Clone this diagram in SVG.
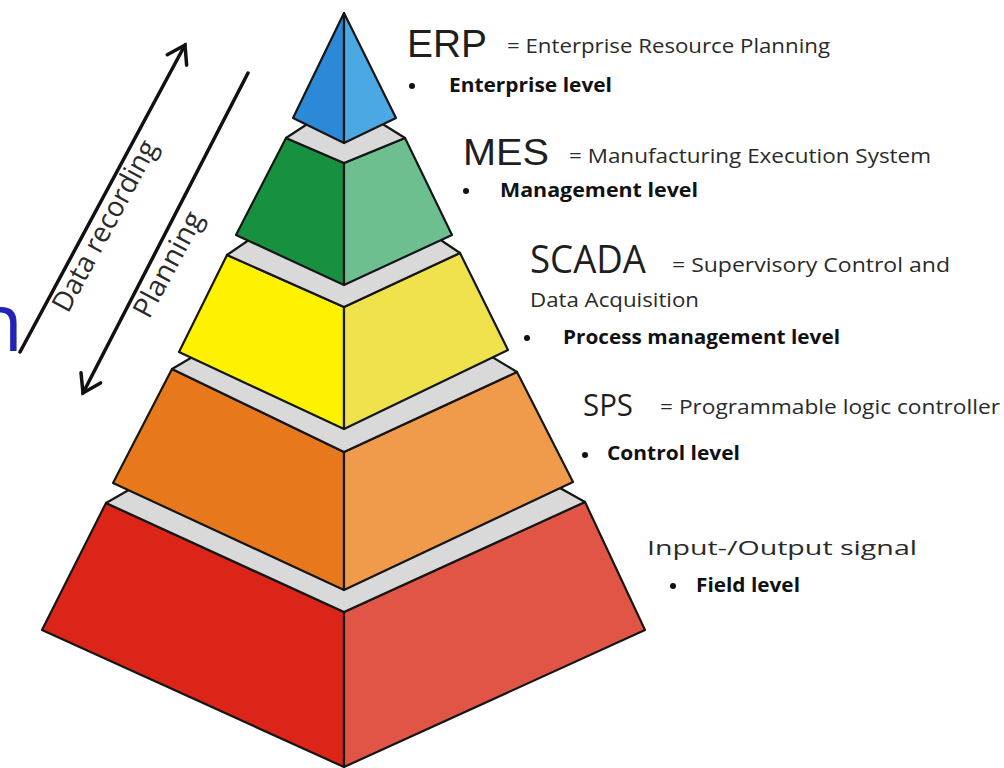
<svg xmlns="http://www.w3.org/2000/svg" width="1004" height="768" viewBox="0 0 1004 768">
  <defs>
    <style>
      .edge { stroke: #161616; stroke-width: 2.2; stroke-linejoin: round; }
      .ledge { fill: #d9d9d9; }
      .acr { font-family: "Liberation Sans", Arial, sans-serif; fill: #1e1e1e; }
      .acr2 { font-family: "Open Sans", "Noto Sans", sans-serif; fill: #1e1e1e; }
      .def { font-family: "Open Sans", "Noto Sans", sans-serif; font-size: 20px; fill: #2a2a2a; }
      .lvl { font-family: "Open Sans", "Noto Sans", sans-serif; font-size: 19px; font-weight: 700; fill: #111; }
      .dot { fill: #111; }
      .arrow { stroke: #111; stroke-width: 3.5; fill: none; stroke-linecap: round; }
      .alabel { font-family: "Open Sans", "Noto Sans", sans-serif; font-size: 28px; fill: #2a2a2a; }
    </style>
    <marker id="vhead" markerUnits="userSpaceOnUse" orient="auto" markerWidth="40" markerHeight="40"
            viewBox="-20 -20 40 40" refX="0" refY="0" overflow="visible">
      <path d="M-17,-11 L0,0 L-17,11" fill="none" stroke="#111" stroke-width="3.5" stroke-linecap="round" stroke-linejoin="miter"/>
    </marker>
  </defs>

  <rect width="1004" height="768" fill="#ffffff"/>

  <!-- clipped heading letter at the left margin -->
  <text x="-26" y="351" font-family="'Open Sans', 'Noto Sans', sans-serif" font-size="80" fill="#2323b8">n</text>

  <!-- Field level (bottom layer) -->
  <g id="io">
    <polygon class="edge" fill="#dc2519" points="106,503 344,612 344,767 42,630"/>
    <polygon class="edge" fill="#e05546" points="344,612 585,502 645,630 344,767"/>
    <polygon class="edge ledge" points="106,503 344,367 585,502 344,612"/>
    <text class="def" x="647" y="555" font-size="27" textLength="270" lengthAdjust="spacingAndGlyphs">Input-/Output signal</text>
    <circle class="dot" cx="673" cy="586" r="3"/>
    <text class="lvl" x="696" y="592" textLength="104" lengthAdjust="spacingAndGlyphs">Field level</text>
  </g>

  <!-- Control level -->
  <g id="sps">
    <polygon class="edge" fill="#e7791c" points="172,369 344,452 344,590 113,483"/>
    <polygon class="edge" fill="#ef9b4b" points="344,452 517,372 573,482 344,590"/>
    <polygon class="edge ledge" points="172,369 344,268 517,372 344,452"/>
    <text class="acr2" x="583" y="416" font-size="31" textLength="50" lengthAdjust="spacingAndGlyphs">SPS</text>
    <text class="def" x="660" y="414" textLength="340" lengthAdjust="spacingAndGlyphs">= Programmable logic controller</text>
    <circle class="dot" cx="585" cy="455" r="3"/>
    <text class="lvl" x="607" y="460" textLength="133" lengthAdjust="spacingAndGlyphs">Control level</text>
  </g>

  <!-- Process management level -->
  <g id="scada">
    <polygon class="edge" fill="#fff200" points="227,255 344,307 344,429 179,352"/>
    <polygon class="edge" fill="#f0e24c" points="344,307 460,253 508,350 344,429"/>
    <polygon class="edge ledge" points="227,255 344,175 460,253 344,307"/>
    <text class="acr2" x="530" y="273" font-size="39" textLength="116" lengthAdjust="spacingAndGlyphs">SCADA</text>
    <text class="def" x="672" y="272" textLength="278" lengthAdjust="spacingAndGlyphs">= Supervisory Control and</text>
    <text class="def" x="530" y="307" textLength="169" lengthAdjust="spacingAndGlyphs">Data Acquisition</text>
    <circle class="dot" cx="527" cy="338" r="3"/>
    <text class="lvl" x="563" y="344" textLength="277" lengthAdjust="spacingAndGlyphs">Process management level</text>
  </g>

  <!-- Management level -->
  <g id="mes">
    <polygon class="edge" fill="#17913f" points="286,138 344,163 344,285 236,235"/>
    <polygon class="edge" fill="#6dbf8f" points="344,163 405,138 452,235 344,285"/>
    <polygon class="edge ledge" points="286,138 344,100 405,138 344,163"/>
    <text class="acr" x="463" y="165" font-size="37" textLength="86" lengthAdjust="spacingAndGlyphs">MES</text>
    <text class="def" x="569" y="163" textLength="362" lengthAdjust="spacingAndGlyphs">= Manufacturing Execution System</text>
    <circle class="dot" cx="466" cy="191" r="3"/>
    <text class="lvl" x="500" y="197" textLength="198" lengthAdjust="spacingAndGlyphs">Management level</text>
  </g>

  <!-- Enterprise level (apex) -->
  <g id="erp">
    <polygon class="edge" fill="#2b89d7" points="344,13 293,118 344,143"/>
    <polygon class="edge" fill="#4ca8e2" points="344,13 344,143 396,118"/>
    <text class="acr" x="407" y="57" font-size="38" textLength="80" lengthAdjust="spacingAndGlyphs">ERP</text>
    <text class="def" x="507" y="53" textLength="323" lengthAdjust="spacingAndGlyphs">= Enterprise Resource Planning</text>
    <circle class="dot" cx="412" cy="86" r="3"/>
    <text class="lvl" x="449" y="92" textLength="163" lengthAdjust="spacingAndGlyphs">Enterprise level</text>
  </g>

  <!-- information flow arrows -->
  <g id="connectors">
    <line class="arrow" x1="20" y1="352" x2="185" y2="45" marker-end="url(#vhead)"/>
    <line class="arrow" x1="248" y1="73" x2="83" y2="393" marker-end="url(#vhead)"/>
    <text class="alabel" transform="translate(68,314) rotate(-61.75)" textLength="190" lengthAdjust="spacingAndGlyphs">Data recording</text>
    <text class="alabel" transform="translate(149,320) rotate(-61.75)" textLength="116" lengthAdjust="spacingAndGlyphs">Planning</text>
  </g>
</svg>
